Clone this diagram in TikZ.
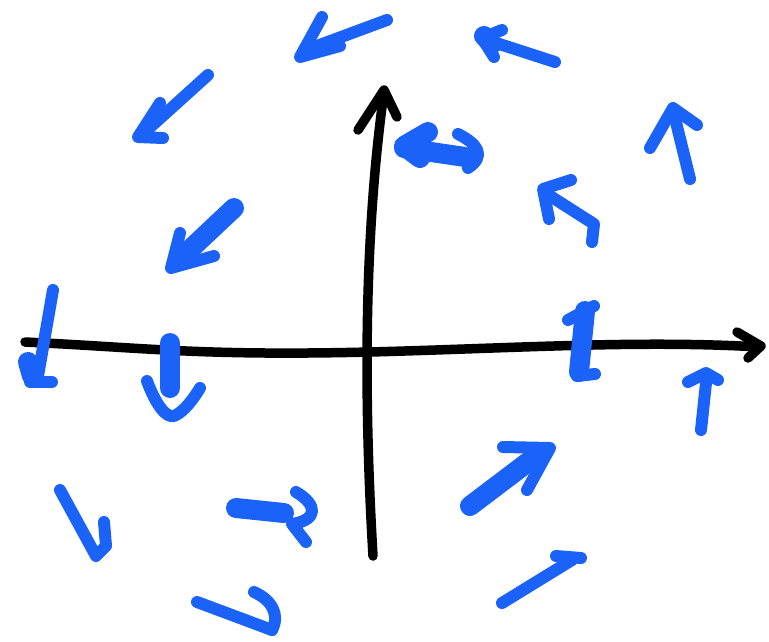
\documentclass[tikz,border=0pt]{standalone}
\definecolor{pen}{HTML}{1B63F8}
\tikzset{
  axis/.style={black, line width=9.5pt, line cap=round, line join=round},
  vec/.style={pen, line width=12pt, line cap=round, line join=round},
  thickvec/.style={pen, line width=20pt, line cap=round, line join=round},
}
\begin{document}
\begin{tikzpicture}[x=1pt,y=-1pt]
\useasboundingbox (0,0) rectangle (769,641);
% axes
\draw[axis] (25,342) .. controls (150,348) and (200,356) .. (370,352)
  .. controls (520,348) and (640,340) .. (760,347);
\draw[axis] (737,332) -- (761,346) -- (748,358);
\draw[axis] (373,556) .. controls (365,420) and (362,250) .. (384,92);
\draw[axis] (358,130) -- (384,90) -- (397,117);
% top row
\draw[vec] (387,20) -- (306,50);
\draw[vec] (322,17) -- (300,57) -- (340,46);
\draw[vec] (555,62) -- (487,40);
\draw[thickvec] (484,36) -- (492,44);
\draw[vec] (502,30) -- (482,38) -- (494,57);
% left upper
\draw[vec] (208,75) -- (146,131);
\draw[vec] (160,103) -- (138,137) -- (163,138);
\draw[thickvec] (234,208) -- (183,256);
\draw[vec] (180,233) -- (171,268) -- (214,256);
% near vertical axis top
\draw[thickvec] (404,148) -- (465,157);
\draw[thickvec] (428,132) -- (404,146) -- (420,158);
\draw[vec] (458,134) .. controls (478,144) and (486,156) .. (468,168);
% right upper
\draw[vec] (690,179) -- (673,110);
\draw[vec] (650,148) -- (673,108) -- (697,125);
\draw[vec] (547,194) -- (594,224) -- (592,242);
\draw[vec] (571,180) -- (543,189) -- (549,219);
% on horizontal axis
\draw[vec] (53,290) -- (38,376);
\draw[thickvec] (28,362) -- (32,376);
\draw[vec] (30,382) -- (52,382);
\draw[thickvec] (170,343) -- (170,388);
\draw[vec] (147,381) .. controls (156,405) and (166,418) .. (174,416)
  .. controls (184,412) and (194,398) .. (200,388);
\draw[thickvec] (585,311) -- (579,372);
\draw[vec] (568,320) -- (594,306);
\draw[vec] (577,376) -- (595,374);
\draw[vec] (701,430) -- (706,383);
\draw[vec] (688,382) -- (706,373) -- (718,380);
% lower left
\draw[vec] (60,490) -- (96,556) -- (106,546) -- (104,522);
\draw[thickvec] (236,508) -- (284,513);
\draw[vec] (296,492) .. controls (318,505) and (318,520) .. (292,524) -- (306,542);
\draw[vec] (197,602) -- (272,630);
\draw[vec] (254,592) .. controls (272,600) and (280,615) .. (272,630);
% lower right
\draw[thickvec] (470,506) -- (536,456);
\draw[vec] (503,447) -- (550,448) -- (527,490);
\draw[vec] (502,603) -- (572,560);
\draw[vec] (556,556) -- (581,558);
\end{tikzpicture}
\end{document}
